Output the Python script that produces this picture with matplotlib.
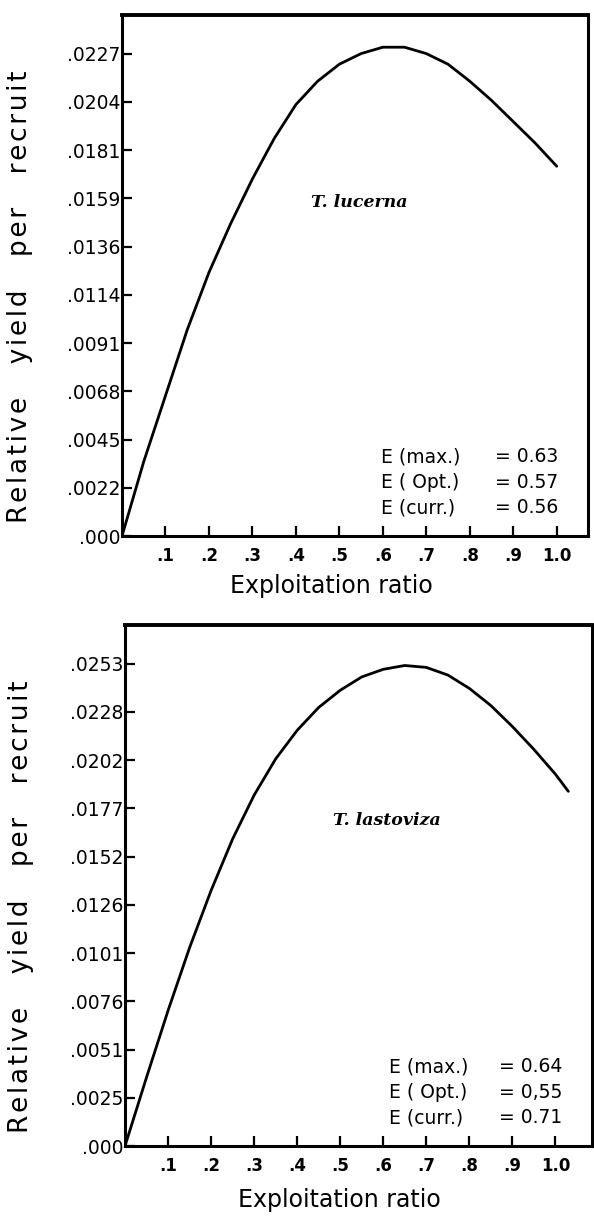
import matplotlib
matplotlib.use('Agg')
from matplotlib import pyplot as plt
import numpy as np

# exploitation ratio (E) and relative yield per recruit
e_lucerna = [0.0, 0.05, 0.1, 0.15, 0.2, 0.25, 0.3, 0.35, 0.4, 0.45, 0.5,
             0.55, 0.6, 0.65, 0.7, 0.75, 0.8, 0.85, 0.9, 0.95, 1.0]
y_lucerna = [0.0, 0.0035, 0.0066, 0.0097, 0.0124, 0.0147, 0.0168, 0.0187,
             0.0203, 0.0214, 0.0222, 0.0227, 0.0230, 0.0230, 0.0227, 0.0222,
             0.0214, 0.0205, 0.0195, 0.0185, 0.0174]

e_lastoviza = [0.0, 0.05, 0.1, 0.15, 0.2, 0.25, 0.3, 0.35, 0.4, 0.45, 0.5,
               0.55, 0.6, 0.65, 0.7, 0.75, 0.8, 0.85, 0.9, 0.95, 1.0, 1.03]
y_lastoviza = [0.0, 0.0036, 0.0071, 0.0104, 0.0134, 0.0161, 0.0184, 0.0203,
               0.0218, 0.0230, 0.0239, 0.0246, 0.0250, 0.0252, 0.0251, 0.0247,
               0.0240, 0.0231, 0.0220, 0.0208, 0.0195, 0.0186]

# y tick labels as printed
yt_lucerna = ['.000', '.0022', '.0045', '.0068', '.0091', '.0114', '.0136',
              '.0159', '.0181', '.0204', '.0227']
yt_lastoviza = ['.000', '.0025', '.0051', '.0076', '.0101', '.0126', '.0152',
                '.0177', '.0202', '.0228', '.0253']
xt_labels = ['.1', '.2', '.3', '.4', '.5', '.6', '.7', '.8', '.9', '1.0']
xt_values = [0.1, 0.2, 0.3, 0.4, 0.5, 0.6, 0.7, 0.8, 0.9, 1.0]

e_names = ['E (max.)', 'E ( Opt.)', 'E (curr.)']
e_lucerna_vals = ['= 0.63', '= 0.57', '= 0.56']
e_lastoviza_vals = ['= 0.64', '= 0,55', '= 0.71']


def spaced(text):
    # slightly wide letter spacing like the typed original
    return '    '.join('\u200a'.join(w) for w in text.split())


fig = plt.figure(figsize=[5.94, 12.22], dpi=100)

panels = [
    dict(rect=[122 / 594, 1 - 536 / 1222, 466 / 594, 521 / 1222],
         e=e_lucerna, y=y_lucerna, yt=yt_lucerna, step=0.00227, xmax=1.072,
         name='T. lucerna', name_xy=(0.51, 0.64),
         vals=e_lucerna_vals, ex=0.555, eqx=0.80,
         ylab_xy=(-0.19, 0.46), xlab_xy=(0.45, -0.072)),
    dict(rect=[125 / 594, 1 - 1146 / 1222, 467 / 594, 521 / 1222],
         e=e_lastoviza, y=y_lastoviza, yt=yt_lastoviza, step=0.00253, xmax=1.085,
         name='T. lastoviza', name_xy=(0.56, 0.625),
         vals=e_lastoviza_vals, ex=0.565, eqx=0.80,
         ylab_xy=(-0.195, 0.46), xlab_xy=(0.46, -0.08)),
]

for p in panels:
    ax = fig.add_axes(p['rect'])
    ax.plot(p['e'], p['y'], color='black', linewidth=2.0,
            solid_capstyle='round', solid_joinstyle='round')

    n = len(p['yt'])
    ax.set_ylim(0, p['step'] * 10.8)
    ax.set_xlim(0, p['xmax'])
    ax.set_yticks([p['step'] * k for k in range(n)])
    ax.set_yticklabels(p['yt'], fontsize=13.5)
    ax.set_xticks(xt_values)
    ax.set_xticklabels(xt_labels, fontsize=12, fontweight='bold')
    ax.tick_params(axis='both', direction='in', length=7, width=1.6, color='black')
    ax.tick_params(axis='y', pad=1)
    ax.tick_params(axis='x', pad=8)
    for s in ax.spines.values():
        s.set_linewidth(2.2)
    ax.spines['top'].set_linewidth(2.8)

    ax.set_xlabel('Exploitation ratio', fontsize=17)
    ax.set_ylabel(spaced('Relative yield per recruit'), fontsize=19)
    ax.xaxis.set_label_coords(*p['xlab_xy'])
    ax.yaxis.set_label_coords(*p['ylab_xy'])

    ax.text(p['name_xy'][0], p['name_xy'][1], p['name'], transform=ax.transAxes,
            fontsize=12.5, fontweight='bold', style='italic', family='DejaVu Serif',
            ha='center', va='center')

    for i, (lab, val) in enumerate(zip(e_names, p['vals'])):
        yy = 0.152 - i * 0.049
        ax.text(p['ex'], yy, lab, transform=ax.transAxes, fontsize=13.5,
                ha='left', va='center')
        ax.text(p['eqx'], yy, val, transform=ax.transAxes, fontsize=13.5,
                ha='left', va='center')

plt.savefig('out.png', dpi=100)
